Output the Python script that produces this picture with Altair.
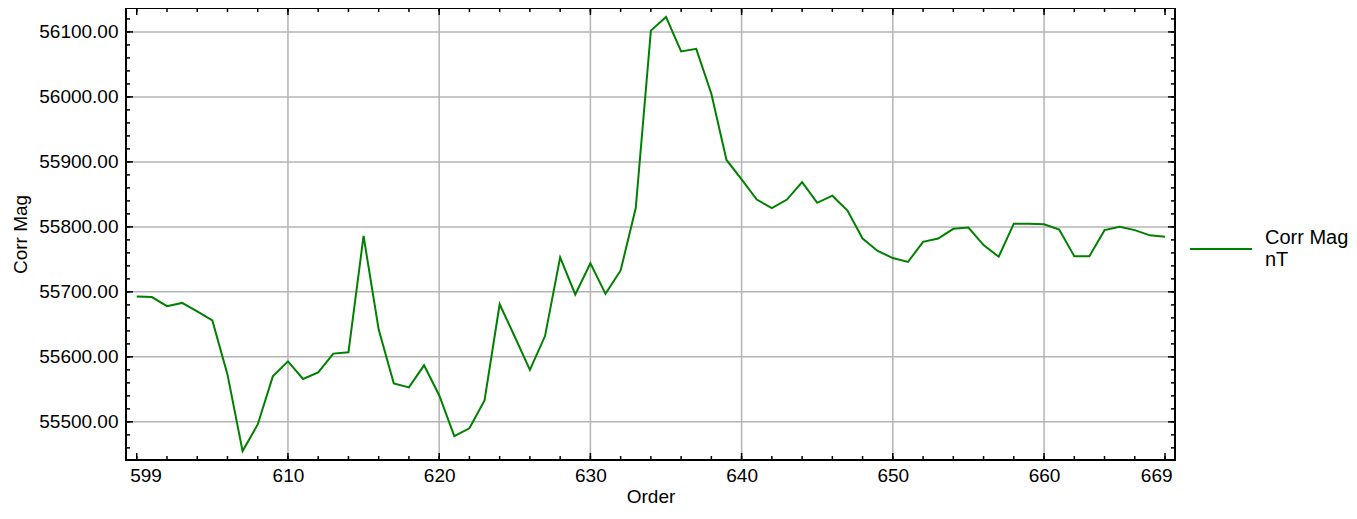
import altair as alt
import pandas as pd

# ---- data ----
order = list(range(600, 669))
corr_mag = [55693, 55692, 55678, 55683, 55670, 55656, 55573, 55455, 55496, 55570,
            55593, 55566, 55576, 55605, 55607, 55786, 55642, 55559, 55553, 55587,
            55541, 55478, 55490, 55533, 55681, 55631, 55580, 55632, 55753, 55696,
            55744, 55697, 55733, 55829, 56102, 56123, 56070, 56074, 56005, 55903,
            55873, 55842, 55829, 55842, 55869, 55837, 55848, 55825, 55782, 55763,
            55752, 55746, 55777, 55782, 55797, 55799, 55772, 55754, 55805, 55805,
            55804, 55796, 55755, 55755, 55795, 55800, 55795, 55787, 55785]
series_name = "Corr Mag nT"
legend_lines = ["Corr Mag", "nT"]

x_tick_values = [600, 610, 620, 630, 640, 650, 660, 668]
x_tick_labels = ["599", "610", "620", "630", "640", "650", "660", "669"]
x_grid_values = [610, 620, 630, 640, 650, 660]
x_minor_values = list(range(600, 669, 2))

y_tick_values = [55500, 55600, 55700, 55800, 55900, 56000, 56100]
y_minor_values = list(range(55460, 56140, 20))

x_domain = [599.29, 668.66]
y_domain = [55441.3, 56136.8]

W, H = 1049, 452
GREEN = "#008000"
GRID = "#b4b4b4"
FONT = "Liberation Sans"

df = pd.DataFrame({"Order": order, "Corr Mag": corr_mag, "series": series_name})

xs = alt.Scale(domain=x_domain, nice=False, zero=False)
ys = alt.Scale(domain=y_domain, nice=False, zero=False)

label_map = " : ".join(
    [f"datum.value == {v} ? '{l}'" for v, l in zip(x_tick_values, x_tick_labels)]
) + " : datum.label"

x_axis = alt.Axis(values=x_tick_values, labelExpr=label_map, grid=False, ticks=False,
                  domain=False, labelFont=FONT, labelFontSize=19, labelColor="black",
                  labelPadding=6, labelFlush=15, labelFlushOffset=7,
                  title="Order", titleFont=FONT, titleFontSize=19, titleFontWeight="normal",
                  titleColor="black", titleY=36, titleBaseline="middle")
y_axis = alt.Axis(values=y_tick_values, format=".2f", grid=False, ticks=False,
                  domain=False, labelFont=FONT, labelFontSize=19, labelColor="black",
                  labelPadding=8, labelFlush=False,
                  title="Corr Mag", titleFont=FONT, titleFontSize=19, titleFontWeight="normal",
                  titleColor="black", titleX=-106, titleY=226, titleBaseline="middle")

legend = alt.Legend(title=None, orient="none", legendX=1063, legendY=209,
                    symbolType="stroke", symbolSize=3844, symbolStrokeWidth=2,
                    labelFont=FONT, labelFontSize=20, labelColor="black", labelOffset=12,
                    labelExpr="['" + "', '".join(legend_lines) + "']", labelLimit=300,
                    labelBaseline="line-bottom", padding=0)


def X(field):
    return alt.X(field, scale=xs, axis=x_axis)


def Y(field):
    return alt.Y(field, scale=ys, axis=y_axis)


xgrid = alt.Chart(pd.DataFrame({"v": x_grid_values})).mark_rule(
    color=GRID, strokeWidth=1.5).encode(x=X("v:Q"))
ygrid = alt.Chart(pd.DataFrame({"v": y_tick_values})).mark_rule(
    color=GRID, strokeWidth=1.5).encode(y=Y("v:Q"))

line = alt.Chart(df).mark_line(strokeWidth=2).encode(
    x=X("Order:Q"),
    y=Y("Corr Mag:Q"),
    color=alt.Color("series:N", scale=alt.Scale(range=[GREEN]), legend=legend),
)


def xticks(vals, length):
    d = pd.DataFrame({"v": vals})
    bottom = alt.Chart(d).mark_rule(color="black", strokeWidth=1.5).encode(
        x=X("v:Q"), y=alt.value(H - length), y2=alt.value(H))
    top = alt.Chart(d).mark_rule(color="black", strokeWidth=1.5).encode(
        x=X("v:Q"), y=alt.value(0), y2=alt.value(length))
    return [bottom, top]


def yticks(vals, length):
    d = pd.DataFrame({"v": vals})
    left = alt.Chart(d).mark_rule(color="black", strokeWidth=1.5).encode(
        y=Y("v:Q"), x=alt.value(0), x2=alt.value(length))
    right = alt.Chart(d).mark_rule(color="black", strokeWidth=1.5).encode(
        y=Y("v:Q"), x=alt.value(W - length), x2=alt.value(W))
    return [left, right]


layers = [xgrid, ygrid, line] + xticks(x_minor_values, 4) + xticks(x_tick_values, 7) \
    + yticks(y_minor_values, 4) + yticks(y_tick_values, 7)

chart = alt.layer(*layers).properties(
    width=W, height=H,
    padding={"left": 118, "top": 0, "right": 174, "bottom": 46},
    autosize="none",
).configure_view(stroke="black", strokeWidth=2)

chart.save("out.html", embed_options={"renderer": "svg", "actions": False})
